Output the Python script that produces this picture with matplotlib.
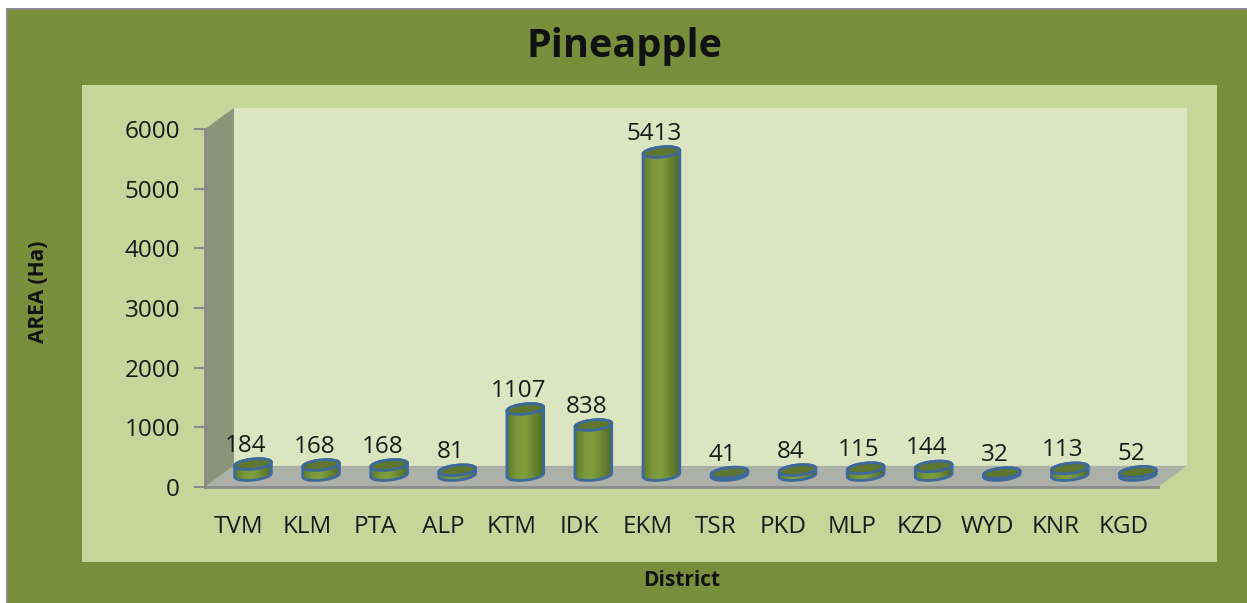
import numpy as np
import matplotlib as mpl
mpl.use('Agg')
from matplotlib import pyplot as plt
from matplotlib.patches import Rectangle, Polygon
from matplotlib.colors import LinearSegmentedColormap

districts = ['TVM','KLM','PTA','ALP','KTM','IDK','EKM','TSR','PKD','MLP','KZD','WYD','KNR','KGD']
area = [184,168,168,81,1107,838,5413,41,84,115,144,32,113,52]
yticks = [0,1000,2000,3000,4000,5000,6000]

W,H = 1247,603
plt.rcParams['font.family'] = ['Open Sans','DejaVu Sans']
fig = plt.figure(figsize=(W/100,H/100),dpi=100,facecolor='w')

def px_rect(x0,y0,x1,y1,**kw): ## rectangle in image pixels, y measured from the top
    fig.add_artist(Rectangle((x0/W,1-y1/H),(x1-x0)/W,(y1-y0)/H,transform=fig.transFigure,lw=0,zorder=-1,**kw))

px_rect(6,8,W,H,color='#8a8a86')
px_rect(8,10,W,H,color='#778f3a')
px_rect(82,85,1217,562,color='#c5d69b')

ax = fig.add_axes([205/W,1-487/H,953/W,358/H],facecolor='none')
ax.set_xlim(-0.5,13.5)
ax.set_ylim(0,6000)

## 3d box around the plot, offsets are in data units
depth_x,depth_y = 0.425,355
x0,x1 = -0.5,13.5
box = dict(clip_on=False,lw=0)
ax.add_patch(Polygon([(x0+depth_x,depth_y),(x1+depth_x,depth_y),(x1+depth_x,6000+depth_y),(x0+depth_x,6000+depth_y)],color='#dbe5bf',zorder=1,**box))
ax.add_patch(Polygon([(x0,0),(x0+depth_x,depth_y),(x0+depth_x,6000+depth_y),(x0,6000)],color='#8c9479',zorder=1,**box))
ax.add_patch(Polygon([(x0,0),(x1,0),(x1+depth_x,depth_y),(x0+depth_x,depth_y)],color='#adafa9',zorder=1,**box))

## cylinders sit half way into the box
half = 0.27
bh = 85
tilt = 30
off_x,off_y = 0.205,200
blue = '#3d6a9c'
cyl = LinearSegmentedColormap.from_list('cyl',['#5d7a2b','#7a973b','#7f9c3e','#6a8532','#4f6a26'])
grad = np.linspace(0,1,64).reshape(1,-1)
t = np.linspace(0,2*np.pi,80)

def ring(cx,cy,t):
    return np.column_stack([cx+half*np.cos(t),cy+bh*np.sin(t)+tilt*np.cos(t)])

for i,(name,v) in enumerate(zip(districts,area)):
    cx = i+off_x
    base,top = off_y,off_y+v
    ## side of the cylinder: front half of both rings
    low = ring(cx,base,np.linspace(np.pi,2*np.pi,40))
    high = ring(cx,top,np.linspace(0,np.pi,40))
    body = Polygon(np.vstack([low,high]),closed=True,fc='none',ec=blue,lw=2,zorder=4,clip_on=False)
    ax.add_patch(body)
    im = ax.imshow(grad,cmap=cyl,aspect='auto',interpolation='bilinear',extent=[cx-half,cx+half,base-bh-tilt,top+bh+tilt],zorder=3,clip_on=True)
    im.set_clip_path(body)
    ax.add_patch(Polygon(ring(cx,top,t),closed=True,fc='#5e7630',ec=blue,lw=2,zorder=5,clip_on=False))
    ax.annotate(str(v),(cx,top),xytext=(-5,13),textcoords='offset points',ha='center',va='center',fontsize=17.5,color='#1a1a1a',zorder=6,annotation_clip=False)

ax.set_xlim(-0.5,13.5)
ax.set_ylim(0,6000)

ax.set_xticks(range(len(districts)))
ax.set_xticklabels(districts,fontsize=17.5,color='#1a1a1a')
ax.set_yticks(yticks)
ax.set_yticklabels([str(k) for k in yticks],fontsize=17.5,color='#1a1a1a')
ax.tick_params(axis='x',length=0,pad=20)
ax.tick_params(axis='y',length=8,width=1.5,color='#8a8a8a',pad=10)
[ax.spines[loc].set_visible(False) for loc in ['top','right']]
[ax.spines[loc].set_color('#8a8a8a') for loc in ['left','bottom']]
[ax.spines[loc].set_linewidth(2) for loc in ['left','bottom']]
[ax.spines[loc].set_zorder(2) for loc in ['left','bottom']]

fig.text(624/W,1-47/H,'Pineapple',ha='center',va='center',fontsize=28.5,fontweight='bold',color='#111111')
fig.text(38/W,1-292/H,'AREA (Ha)',rotation=90,ha='center',va='center',fontsize=15,fontweight='bold',color='#111111')
fig.text(682/W,1-580/H,'District',ha='center',va='center',fontsize=15,fontweight='bold',color='#111111')

fig.savefig('out.png',dpi=100,facecolor='w')
